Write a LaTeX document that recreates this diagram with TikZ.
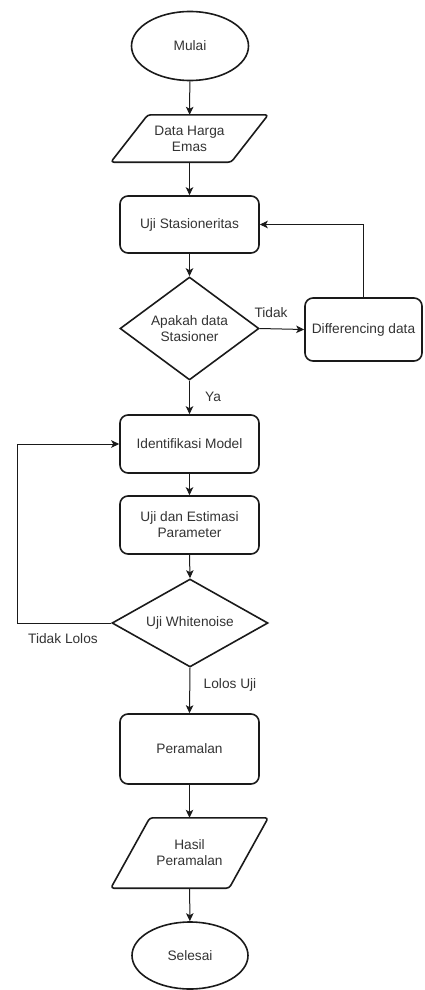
\documentclass[tikz,border=0pt]{standalone}
\usepackage{fontspec}
\setmainfont{Liberation Sans}
\usetikzlibrary{shapes.geometric,arrows.meta,calc}

\definecolor{ink}{HTML}{1A1A1A}
\definecolor{txt}{HTML}{333333}

\tikzset{
  base/.style={font=\fontsize{13.7}{16}\selectfont, text=txt, align=center, inner sep=0pt},
  shapeline/.style={draw=ink, line width=1.6pt},
  terminal/.style={base, shapeline, ellipse, minimum width=117pt, minimum height=69pt},
  process/.style={base, shapeline, rectangle, rounded corners=8pt, minimum width=139pt},
  decision/.style={base, shapeline, diamond},
  iobody/.style={base, rectangle},
  flow/.style={draw=ink, line width=1pt, -{Stealth[length=8pt,width=7.5pt,inset=2pt]}},
  lbl/.style={base},
}

% parallelogram drawn round an invisible rectangular node
\newcommand{\iobox}[2]{%
  \draw[shapeline, rounded corners=3pt, line join=round]
    ($(#1.north west)+(#2/2,0)$) -- ($(#1.north east)+(#2/2,0)$) --
    ($(#1.south east)-(#2/2,0)$) -- ($(#1.south west)-(#2/2,0)$) -- cycle;}

\begin{document}
\begin{tikzpicture}[x=1pt,y=-1pt]
  \useasboundingbox (0,0) rectangle (424,990);

  \node[terminal] (mulai) at (190,46) {Mulai};

  \node[iobody, minimum width=120pt, minimum height=47pt] (data) at (189.5,138.5) {Data Harga\\Emas};
  \iobox{data}{37}

  \node[process, minimum height=57pt] (uji) at (189.5,224.5) {Uji Stasioneritas};

  \node[decision, minimum width=139pt, minimum height=103pt, shape aspect=1.35] (d1) at (189.5,328.5) {Apakah data\\Stasioner};

  \node[process, minimum width=117pt, minimum height=63pt] (diff) at (363.5,329.5) {Differencing data};

  \node[process, minimum height=58pt] (ident) at (189.5,444) {Identifikasi Model};

  \node[process, minimum height=58pt] (est) at (189.5,525) {Uji dan Estimasi\\Parameter};

  \node[decision, minimum width=156pt, minimum height=88pt, shape aspect=1.77] (d2) at (190,623) {Uji Whitenoise};

  \node[process, minimum height=70pt] (ramal) at (189.5,749) {Peramalan};

  \node[iobody, minimum width=118pt, minimum height=70pt] (hasil) at (189.5,853) {Hasil\\Peramalan};
  \iobox{hasil}{39}

  \node[terminal, minimum width=116pt, minimum height=67pt] (selesai) at (190,955.5) {Selesai};

  % main flow
  \draw[flow] (mulai) -- (data);
  \draw[flow] (data) -- (uji);
  \draw[flow] (uji) -- (d1);
  \draw[flow] (d1.east) -- (diff.west);
  \draw[flow] (diff.north) |- (uji.east);
  \draw[flow] (d1.south) -- (ident.north);
  \draw[flow] (ident) -- (est);
  \draw[flow] (est.south) -- (d2.north);
  \coordinate (loopcorner) at (17,623);
  \draw[flow] (d2.west) -- (loopcorner) |- (ident.west);
  \draw[flow] (d2.south) -- (ramal.north);
  \draw[flow] (ramal) -- (hasil);
  \draw[flow] (hasil) -- (selesai);

  % branch labels
  \node[lbl] (ltidak) at (271,313) {Tidak};
  \node[lbl] (lya) at (213,397) {Ya};
  \node[lbl] (ltl) at (63,639) {Tidak Lolos};
  \node[lbl] (llu) at (230,685) {Lolos Uji};
\end{tikzpicture}
\end{document}
